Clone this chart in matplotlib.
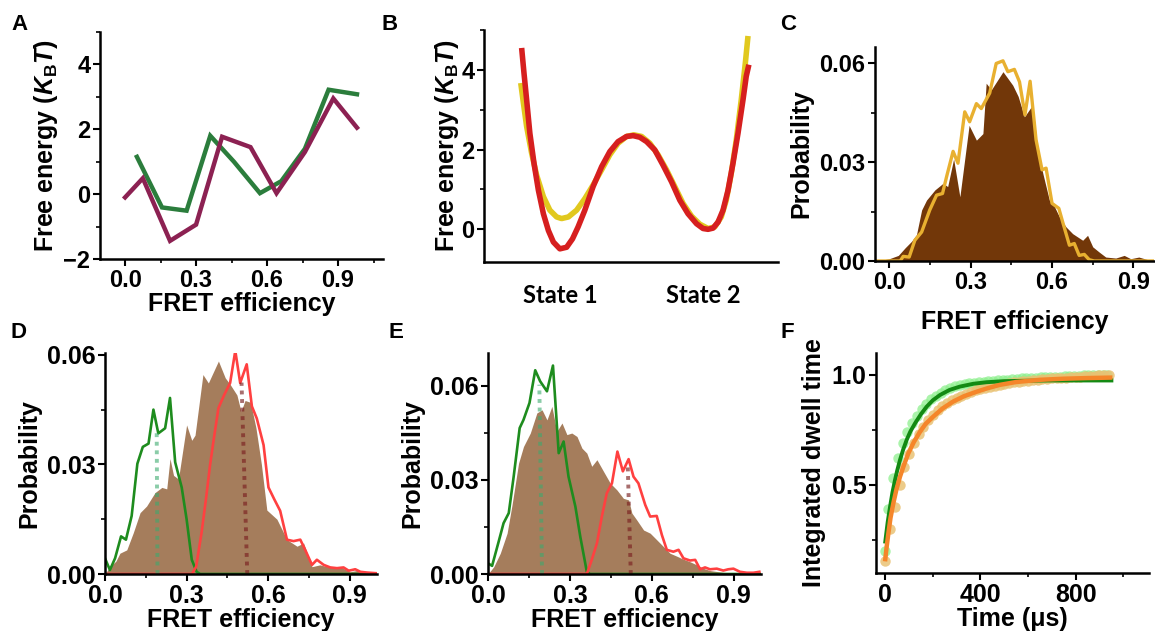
import numpy as np
import matplotlib
matplotlib.use("Agg")
import matplotlib.pyplot as plt
from matplotlib.ticker import MultipleLocator

plt.rcParams['font.family'] = 'Liberation Sans'
plt.rcParams['font.weight'] = 'bold'
plt.rcParams['axes.labelweight'] = 'bold'
plt.rcParams['mathtext.fontset'] = 'custom'
plt.rcParams['mathtext.it'] = 'Liberation Sans:italic:bold'
plt.rcParams['mathtext.rm'] = 'Liberation Sans:bold'
plt.rcParams['mathtext.bf'] = 'Liberation Sans:bold'

# ---- A: free energy profiles vs FRET efficiency
a_green_x = [0.05, 0.156, 0.26, 0.36, 0.46, 0.57, 0.66, 0.76, 0.86, 0.98]
a_green_y = [1.15, -0.41, -0.51, 1.8, 1.0, 0.03, 0.4, 1.4, 3.22, 3.08]
a_purple_x = [0.0, 0.075, 0.19, 0.30, 0.41, 0.53, 0.64, 0.76, 0.88, 0.98]
a_purple_y = [-0.1, 0.49, -1.44, -0.94, 1.77, 1.45, 0.03, 1.3, 2.95, 2.05]

# ---- B: double-well landscapes (reaction coordinate 0..1)
b_red_x = [0.128, 0.136, 0.145, 0.156, 0.170, 0.185, 0.202, 0.219, 0.236, 0.258,
           0.281, 0.301, 0.320, 0.343, 0.371, 0.400, 0.428, 0.456, 0.485, 0.507,
           0.530, 0.553, 0.581, 0.609, 0.638, 0.666, 0.694, 0.723, 0.745, 0.762,
           0.779, 0.796, 0.813, 0.830, 0.847, 0.864, 0.881, 0.892, 0.901]
b_red_y = [4.55, 3.92, 3.25, 2.41, 1.66, 0.98, 0.39, -0.03, -0.32, -0.49,
           -0.45, -0.24, 0.06, 0.48, 1.07, 1.57, 1.95, 2.20, 2.33, 2.35,
           2.31, 2.20, 1.99, 1.61, 1.19, 0.73, 0.39, 0.14, 0.02, 0.0,
           0.03, 0.18, 0.48, 0.98, 1.66, 2.41, 3.25, 3.84, 4.13]
b_yellow_x = [0.125, 0.134, 0.145, 0.162, 0.179, 0.202, 0.224, 0.247, 0.264, 0.287,
              0.315, 0.343, 0.371, 0.400, 0.428, 0.456, 0.485, 0.510, 0.536, 0.564,
              0.592, 0.621, 0.649, 0.677, 0.706, 0.734, 0.762, 0.785, 0.807, 0.824,
              0.841, 0.858, 0.875, 0.889, 0.898]
b_yellow_y = [3.67, 3.17, 2.58, 1.91, 1.36, 0.82, 0.48, 0.31, 0.27, 0.31,
              0.48, 0.77, 1.11, 1.49, 1.87, 2.16, 2.33, 2.37, 2.33, 2.16,
              1.87, 1.49, 1.07, 0.65, 0.33, 0.13, 0.02, 0.06, 0.31, 0.73,
              1.40, 2.24, 3.25, 4.18, 4.85]
b_states = ["State 1", "State 2"]
b_state_pos = [0.258, 0.745]

# ---- C: FRET histograms
c_fill_x = [-0.046, 0.0, 0.033, 0.058, 0.082, 0.10, 0.119, 0.137, 0.168, 0.198,
            0.215, 0.237, 0.26, 0.294, 0.321, 0.345, 0.357, 0.376, 0.419, 0.455,
            0.475, 0.498, 0.529, 0.547, 0.566, 0.59, 0.609, 0.627, 0.651, 0.676,
            0.713, 0.731, 0.75, 0.774, 0.798, 0.835, 0.866, 0.89, 0.92, 0.97]
c_fill_y = [0, 0.0007, 0.0017, 0.004, 0.006, 0.008, 0.0155, 0.0185, 0.0216, 0.0236,
            0.0226, 0.031, 0.0195, 0.0412, 0.0367, 0.0387, 0.054, 0.052, 0.0575, 0.0534,
            0.050, 0.0438, 0.0475, 0.0338, 0.0266, 0.0185, 0.0165, 0.0134, 0.0104, 0.0083,
            0.0063, 0.0078, 0.0043, 0.0027, 0.0012, 0.0009, 0.0017, 0.0007, 0.0012, 0]
c_line_x = [-0.05, 0.04, 0.051, 0.073, 0.094, 0.119, 0.149, 0.174, 0.196, 0.211,
            0.235, 0.253, 0.278, 0.296, 0.321, 0.339, 0.37, 0.394, 0.419, 0.437,
            0.461, 0.48, 0.50, 0.519, 0.541, 0.563, 0.578, 0.60, 0.625, 0.639,
            0.664, 0.682, 0.70, 0.719, 0.737, 0.755, 0.976]
c_line_y = [0, 0, 0.0014, 0.0012, 0.0063, 0.0088, 0.0155, 0.020, 0.0205, 0.0256,
            0.0333, 0.0297, 0.0453, 0.0423, 0.0478, 0.0463, 0.051, 0.060, 0.0608, 0.0575,
            0.0582, 0.0544, 0.0444, 0.0546, 0.0368, 0.0277, 0.0282, 0.0175, 0.016, 0.0119,
            0.0048, 0.0053, 0.0017, 0.002, 0.0004, 0, 0]

# ---- D
d_fill_x = [0, 0.018, 0.04, 0.055, 0.08, 0.104, 0.129, 0.153, 0.184, 0.209,
            0.227, 0.239, 0.252, 0.27, 0.30, 0.319, 0.331, 0.36, 0.38, 0.417,
            0.442, 0.46, 0.485, 0.50, 0.515, 0.535, 0.555, 0.575, 0.595, 0.632,
            0.669, 0.706, 0.73, 0.761, 0.79, 0.84, 0.87, 0.9, 0.93, 1.0]
d_fill_y = [0, 0.002, 0.0035, 0.0057, 0.0066, 0.0113, 0.0168, 0.0186, 0.0223, 0.0237,
            0.0233, 0.0316, 0.027, 0.026, 0.0408, 0.0366, 0.038, 0.0546, 0.0523, 0.0583,
            0.0537, 0.0519, 0.049, 0.0445, 0.0475, 0.047, 0.040, 0.030, 0.0175, 0.015,
            0.0094, 0.0076, 0.0085, 0.002, 0.0025, 0.0016, 0.0018, 0.0006, 0.001, 0]
d_green_x = [0, 0.018, 0.037, 0.059, 0.077, 0.098, 0.119, 0.139, 0.16, 0.178,
             0.196, 0.221, 0.239, 0.258, 0.282, 0.30, 0.319, 0.337, 0.35, 1.0]
d_green_y = [0.0043, 0.0011, 0.0043, 0.0103, 0.0094, 0.0159, 0.0302, 0.0348, 0.0357, 0.045,
             0.0385, 0.0399, 0.0482, 0.0306, 0.0237, 0.015, 0.0039, 0.0006, 0, 0]
d_red_x = [0, 0.32, 0.335, 0.355, 0.372, 0.386, 0.40, 0.417, 0.438, 0.46,
           0.479, 0.497, 0.521, 0.54, 0.558, 0.583, 0.601, 0.622, 0.644, 0.669,
           0.693, 0.718, 0.736, 0.761, 0.779, 0.804, 0.828, 0.853, 0.877, 0.896,
           0.92, 0.939, 0.963, 1.0]
d_red_y = [0, 0, 0.002, 0.0113, 0.021, 0.0297, 0.037, 0.0454, 0.049, 0.0523,
           0.0611, 0.0523, 0.0574, 0.0459, 0.0426, 0.0353, 0.0237, 0.0205, 0.0173, 0.0094,
           0.009, 0.0094, 0.0066, 0.0025, 0.0039, 0.0025, 0.0018, 0.0016, 0.0018, 0.0009,
           0.0013, 0.0006, 0.0004, 0.0002]
d_green_mark = ([0.193, 0.19], [0, 0.0394])
d_red_mark = ([0.523, 0.502], [0, 0.0524])

# ---- E
e_fill_x = [0, 0.021, 0.045, 0.07, 0.088, 0.112, 0.13, 0.155, 0.179, 0.198,
            0.216, 0.234, 0.252, 0.271, 0.289, 0.307, 0.326, 0.344, 0.362, 0.38,
            0.399, 0.423, 0.448, 0.472, 0.496, 0.515, 0.527, 0.545, 0.57, 0.594,
            0.618, 0.643, 0.667, 0.691, 0.716, 0.74, 0.765, 0.789, 0.813, 0.862,
            0.923, 1.0]
e_fill_y = [0, 0.0023, 0.0066, 0.013, 0.022, 0.0353, 0.0406, 0.0449, 0.0513, 0.0523,
            0.0491, 0.0534, 0.0454, 0.0481, 0.0444, 0.0449, 0.0438, 0.0401, 0.0385, 0.0343,
            0.0364, 0.0327, 0.0289, 0.0268, 0.0241, 0.0236, 0.0194, 0.0172, 0.014, 0.013,
            0.0109, 0.0087, 0.0066, 0.0057, 0.0047, 0.0039, 0.0029, 0.0018, 0.0011, 0.0005,
            0.0002, 0]
e_green_x = [0, 0.015, 0.039, 0.057, 0.076, 0.094, 0.116, 0.13, 0.152, 0.173,
             0.191, 0.216, 0.238, 0.259, 0.277, 0.295, 0.32, 0.338, 0.362, 0.374, 1.0]
e_green_y = [0.0034, 0.0026, 0.0103, 0.0162, 0.0194, 0.031, 0.0465, 0.0491, 0.0545, 0.0649,
             0.0614, 0.0582, 0.0664, 0.0385, 0.0422, 0.031, 0.0215, 0.0119, 0.0007, 0, 0]
e_red_x = [0, 0.362, 0.38, 0.399, 0.417, 0.435, 0.454, 0.474, 0.494, 0.515,
           0.533, 0.551, 0.576, 0.594, 0.618, 0.637, 0.655, 0.679, 0.698, 0.716,
           0.74, 0.759, 0.777, 0.795, 0.813, 0.838, 0.862, 0.88, 0.899, 0.923,
           0.948, 0.972, 0.994]
e_red_y = [0, 0, 0.0045, 0.0098, 0.0183, 0.0257, 0.0289, 0.039, 0.0327, 0.0366,
           0.031, 0.0289, 0.022, 0.0183, 0.0185, 0.0124, 0.0077, 0.0071, 0.0077, 0.005,
           0.0043, 0.0045, 0.0015, 0.0021, 0.0015, 0.0017, 0.0011, 0.0015, 0.0017, 0.0007,
           0.0004, 0.0004, 0.0007]
e_green_mark = ([0.198, 0.188], [0, 0.0603])
e_red_mark = ([0.523, 0.512], [0, 0.0342])

# ---- F: integrated dwell time
f_green_t = [0, 13, 33, 53, 73, 93, 113, 133, 153, 173, 193, 213, 233, 253, 273, 293,
             313, 333, 353, 373, 393, 413, 433, 453, 473, 493, 513, 533, 553, 573, 593, 613,
             633, 653, 673, 693, 713, 733, 753, 773, 793, 813, 833, 853, 873, 893, 913, 933]
f_green_v = [0.20, 0.39, 0.53, 0.62, 0.69, 0.74, 0.78, 0.815, 0.845, 0.87, 0.89, 0.905,
             0.92, 0.93, 0.94, 0.948, 0.954, 0.958, 0.962, 0.965, 0.967, 0.969, 0.971, 0.973,
             0.975, 0.977, 0.979, 0.981, 0.983, 0.985, 0.986, 0.987, 0.988, 0.989, 0.99, 0.991,
             0.992, 0.993, 0.994, 0.995, 0.996, 0.997, 0.998, 0.999, 1.0, 1.0, 1.001, 1.002]
f_tan_t = [0, 20, 40, 60, 80, 100, 120, 140, 160, 180, 200, 220, 240, 260, 280, 300,
           320, 340, 360, 380, 400, 420, 440, 460, 480, 500, 520, 540, 560, 580, 600, 620,
           640, 660, 680, 700, 720, 740, 760, 780, 800, 820, 840, 860, 880, 900, 920, 940]
f_tan_v = [0.155, 0.30, 0.40, 0.50, 0.58, 0.64, 0.69, 0.73, 0.765, 0.795, 0.82, 0.84,
           0.858, 0.873, 0.886, 0.897, 0.906, 0.915, 0.922, 0.93, 0.936, 0.942, 0.947, 0.952,
           0.956, 0.96, 0.963, 0.966, 0.969, 0.972, 0.974, 0.976, 0.978, 0.98, 0.982, 0.984,
           0.985, 0.987, 0.988, 0.99, 0.991, 0.993, 0.994, 0.995, 0.997, 0.998, 0.999, 1.0]
f_gfit_t = [0, 10, 20, 30, 41, 50, 62, 75, 90, 105, 125, 150, 174, 200, 230, 270,
            313, 370, 425, 500, 600, 700, 800, 950]
f_gfit_v = [0.242, 0.33, 0.40, 0.465, 0.523, 0.565, 0.614, 0.66, 0.705, 0.742, 0.78, 0.822,
            0.856, 0.885, 0.909, 0.932, 0.947, 0.96, 0.967, 0.972, 0.974, 0.975, 0.975, 0.975]
f_ofit_t = [0, 6, 13, 22, 34, 47, 62, 80, 97, 120, 146, 170, 201, 240, 285, 330,
            384, 430, 481, 550, 650, 750, 850, 945]
f_ofit_v = [0.162, 0.22, 0.28, 0.35, 0.417, 0.48, 0.538, 0.595, 0.644, 0.695, 0.742, 0.778,
            0.81, 0.847, 0.879, 0.903, 0.924, 0.94, 0.955, 0.968, 0.978, 0.983, 0.986, 0.988]

W, H = 1155, 631
fig = plt.figure(figsize=(W / 100, H / 100), dpi=100)


def axes_px(l, t, r, b):
    return fig.add_axes([l / W, 1 - b / H, (r - l) / W, (b - t) / H])


def style(ax, tick_size):
    for s in ['top', 'right']:
        ax.spines[s].set_visible(False)
    for s in ['left', 'bottom']:
        ax.spines[s].set_linewidth(1.8)
    ax.tick_params(which='major', length=5, width=1.5, labelsize=tick_size, pad=2)
    ax.tick_params(which='minor', length=3, width=1.2)


label_kw = dict(fontsize=16, fontweight='bold')

# A
ax = axes_px(100, 32, 383, 259)
ax.plot(a_green_x, a_green_y, color='#2b7d3c', lw=3.2, solid_joinstyle='miter')
ax.plot(a_purple_x, a_purple_y, color='#8c2152', lw=3.2, solid_joinstyle='miter')
ax.set_xlim(-0.106, 1.09)
ax.set_ylim(-2, 5.0)
ax.xaxis.set_major_locator(MultipleLocator(0.3))
ax.xaxis.set_minor_locator(MultipleLocator(0.15))
ax.yaxis.set_major_locator(MultipleLocator(2))
ax.yaxis.set_minor_locator(MultipleLocator(1))
ax.xaxis.set_major_formatter(plt.FuncFormatter(lambda v, p: f"{v:.1f}"))
style(ax, 17)
ax.set_xlabel("FRET efficiency", fontsize=18, labelpad=0)
ax.set_ylabel(r"Free energy ($K_{\mathrm{B}}T$)", fontsize=18, labelpad=2)
fig.text(20 / W, 1 - 25 / H, "A", ha='center', va='center', **label_kw)

# B
ax = axes_px(484, 30, 778, 262)
ax.plot(b_yellow_x, b_yellow_y, color='#e1c81e', lw=4, solid_capstyle='butt')
ax.plot(b_red_x, b_red_y, color='#d61f1f', lw=4, solid_capstyle='butt')
ax.set_xlim(0, 1)
ax.set_ylim(-0.82, 5.0)
ax.yaxis.set_major_locator(MultipleLocator(2))
ax.yaxis.set_minor_locator(MultipleLocator(1))
ax.set_xticks(b_state_pos)
ax.set_xticklabels(b_states, fontfamily='Lato', fontweight='bold', fontsize=22)
style(ax, 17)
ax.tick_params(axis='x', length=0, pad=16)
ax.set_ylabel(r"Free energy ($K_{\mathrm{B}}T$)", fontsize=18, labelpad=0)
fig.text(390 / W, 1 - 25 / H, "B", ha='center', va='center', **label_kw)

# C
ax = axes_px(875, 47, 1154, 261)
ax.fill_between(c_fill_x, c_fill_y, color='#723709', lw=0)
ax.plot(c_line_x, c_line_y, color='#e8b030', lw=2.4)
ax.set_xlim(-0.053, 0.976)
ax.set_ylim(0, 0.065)
ax.xaxis.set_major_locator(MultipleLocator(0.3))
ax.xaxis.set_minor_locator(MultipleLocator(0.15))
ax.yaxis.set_major_locator(MultipleLocator(0.03))
ax.yaxis.set_minor_locator(MultipleLocator(0.015))
ax.xaxis.set_major_formatter(plt.FuncFormatter(lambda v, p: f"{v:.1f}"))
ax.yaxis.set_major_formatter(plt.FuncFormatter(lambda v, p: f"{v:.2f}"))
style(ax, 17)
ax.set_xlabel("FRET efficiency", fontsize=18, labelpad=12)
ax.set_ylabel("Probability", fontsize=18, labelpad=4)
fig.text(788 / W, 1 - 25 / H, "C", ha='center', va='center', **label_kw)


def hist_panel(rect, fx, fy, gx, gy, rx, ry, gmark, rmark, ytop, lab, lab_xy):
    ax = axes_px(*rect)
    ax.fill_between(fx, fy, color='#a57d5c', lw=0)
    ax.plot(gx, gy, color='#1e8c1e', lw=1.9)
    ax.plot(rx, ry, color='#ff4040', lw=1.9)
    ax.plot(gmark[0], gmark[1], ls=(0, (1, 1.2)), color='#3caa6e', alpha=0.6, lw=2.8)
    ax.plot(rmark[0], rmark[1], ls=(0, (1, 1.2)), color='#7a2020', alpha=0.65, lw=2.8)
    ax.set_xlim(0, 1.0)
    ax.set_ylim(0, ytop)
    ax.xaxis.set_major_locator(MultipleLocator(0.3))
    ax.xaxis.set_minor_locator(MultipleLocator(0.15))
    ax.yaxis.set_major_locator(MultipleLocator(0.03))
    ax.yaxis.set_minor_locator(MultipleLocator(0.015))
    ax.xaxis.set_major_formatter(plt.FuncFormatter(lambda v, p: f"{v:.1f}"))
    ax.yaxis.set_major_formatter(plt.FuncFormatter(lambda v, p: f"{v:.2f}"))
    style(ax, 18)
    ax.set_xlabel("FRET efficiency", fontsize=18, labelpad=0)
    ax.set_ylabel("Probability", fontsize=18, labelpad=4)
    fig.text(lab_xy[0] / W, 1 - lab_xy[1] / H, lab, ha='center', va='center', **label_kw)
    return ax


hist_panel((105, 353, 377, 574), d_fill_x, d_fill_y, d_green_x, d_green_y,
           d_red_x, d_red_y, d_green_mark, d_red_mark, 0.0605, "D", (18, 333))
hist_panel((488, 353, 761, 574), e_fill_x, e_fill_y, e_green_x, e_green_y,
           e_red_x, e_red_y, e_green_mark, e_red_mark, 0.0704, "E", (396, 333))

# F
ax = axes_px(876, 353, 1149, 573)
ax.plot(f_green_t, f_green_v, 'o', color='#8ef08e', alpha=0.75, ms=7.5, mew=0)
ax.plot(f_tan_t, f_tan_v, 'o', color='#e9c274', alpha=0.85, ms=7.5, mew=0)
ax.plot(f_gfit_t, f_gfit_v, color='#138a13', lw=2.8)
ax.plot(f_ofit_t, f_ofit_v, color='#f5862a', lw=3.2)
ax.set_xlim(-39, 1108)
ax.set_ylim(0.099, 1.10)
ax.xaxis.set_major_locator(MultipleLocator(400))
ax.xaxis.set_minor_locator(MultipleLocator(200))
ax.yaxis.set_major_locator(MultipleLocator(0.5))
ax.yaxis.set_minor_locator(MultipleLocator(0.25))
ax.yaxis.set_major_formatter(plt.FuncFormatter(lambda v, p: f"{v:.1f}"))
style(ax, 18)
ax.set_xlabel("Time (\u03bcs)", fontsize=18, labelpad=0)
ax.set_ylabel("Integrated dwell time", fontsize=18, labelpad=4)
fig.text(787 / W, 1 - 333 / H, "F", ha='center', va='center', **label_kw)

fig.savefig("out.png", dpi=100)
